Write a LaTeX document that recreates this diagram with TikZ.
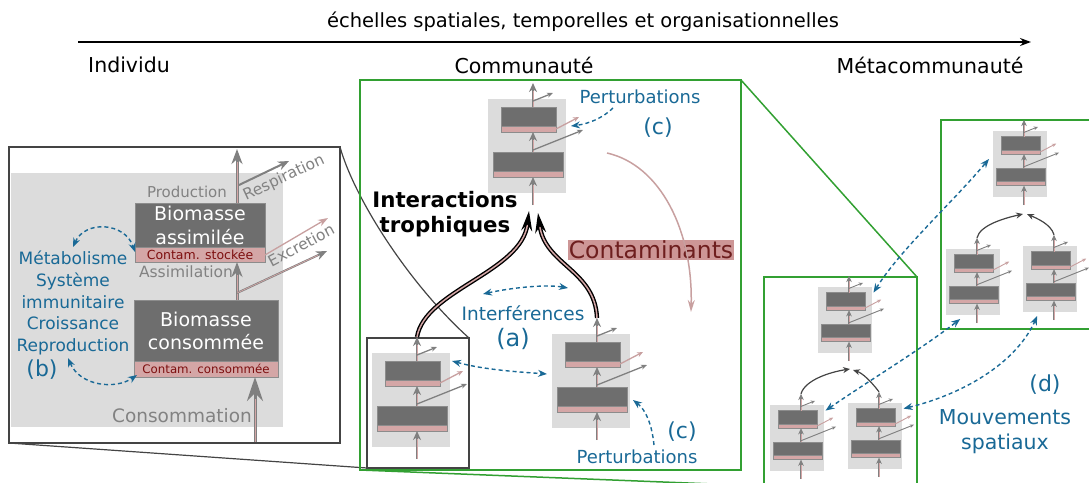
\documentclass[tikz,border=0pt]{standalone}
\usepackage{fontspec}
\setmainfont{DejaVu Sans}
\usetikzlibrary{arrows.meta}

\definecolor{bggray}{RGB}{220,220,220}
\definecolor{biogray}{RGB}{110,110,110}
\definecolor{edgegray}{RGB}{140,140,140}
\definecolor{contpink}{RGB}{212,166,166}
\definecolor{arrgray}{RGB}{128,128,128}
\definecolor{framegray}{RGB}{68,68,68}
\definecolor{vert}{RGB}{50,160,50}
\definecolor{bleu}{RGB}{25,105,150}
\definecolor{rougef}{RGB}{125,15,15}
\definecolor{textgray}{RGB}{130,130,130}
\definecolor{contbg}{RGB}{205,150,150}
\definecolor{contdark}{RGB}{110,30,30}
\definecolor{pinkarrow}{RGB}{200,160,160}

% one small organism (name, x, y, scale)
\newcommand{\orga}[4]{%
  \pgfmathsetmacro{\lwa}{2.4*#4}%
  \pgfmathsetmacro{\lwb}{1.3*#4}%
  \pgfmathsetmacro{\lwc}{0.6*#4}%
  \begin{scope}[shift={(#2,#3)}, scale=#4]
    \fill[bggray] (-45,0) rectangle (33,94);
    \draw[biobox] (-32,8) rectangle (23,33);
    \draw[strip] (-32,27) rectangle (23,33);
    \draw[biobox] (-40,53) rectangle (30,78);
    \draw[strip] (-40,72) rectangle (30,78);
    \coordinate (#1-in) at (0,106);
    \coordinate (#1-out) at (0,-16);
    \coordinate (#1-ne) at (35,8);
    \coordinate (#1-w) at (-50,40);
    \coordinate (#1-s) at (-24,100);
    \draw[arrgray, line width=\lwa pt, -{Stealth[length=9pt,width=8pt,scale=#4]}] (#1-in) -- (0,78);
    \draw[arrgray, line width=\lwa pt, -{Stealth[length=9pt,width=8pt,scale=#4]}] (0,53) -- (0,33);
    \draw[arrgray, line width=\lwa pt, -{Stealth[length=9pt,width=8pt,scale=#4]}] (0,8) -- (#1-out);
    \draw[contpink, line width=\lwc pt] (#1-in) -- (0,86) (0,53) -- (0,41) (0,8) -- (0,-8);
    \draw[arrgray, line width=\lwb pt, -{Stealth[length=6pt,width=5pt,scale=#4]}] (0,2) -- (20,-6);
    \draw[pinkarrow, line width=\lwb pt, -{Stealth[length=6pt,width=5pt,scale=#4]}] (23,30) -- (46,18);
    \draw[arrgray, line width=\lwb pt, -{Stealth[length=6pt,width=5pt,scale=#4]}] (0,51) -- (50,31);
  \end{scope}}

\begin{document}
\begin{tikzpicture}[x=1pt, y=-1pt,
  every node/.style={inner sep=0pt},
  biobox/.style={fill=biogray, draw=edgegray, line width=0.8pt},
  strip/.style={fill=contpink, draw=edgegray, line width=0.8pt},
  frame/.style={draw=framegray, line width=1.4pt},
  cadre/.style={draw=vert, line width=1.5pt},
  flux/.style={draw=arrgray, line width=3pt, -{Stealth[length=15pt,width=11pt]}},
  fluxin/.style={draw=contpink, line width=1pt, shorten >=13pt},
  perturb/.style={draw=bleu, line width=1.4pt, dash pattern=on 4pt off 3pt,
    {Stealth[length=9pt,width=7pt]}-{Stealth[length=9pt,width=7pt]}},
  perturbone/.style={draw=bleu, line width=1.4pt, dash pattern=on 4pt off 3pt,
    -{Stealth[length=9pt,width=7pt]}},
  troph/.style={draw=black, line width=1.4pt, double=contpink, double distance=1.5pt,
    -{Stealth[length=20pt,width=11pt]}},
  reseau/.style={draw=framegray, line width=1.2pt, -{Stealth[length=7pt,width=6pt]}},
  bluetxt/.style={text=bleu, font=\fontsize{18}{22}\selectfont}
]
\clip (0,0) rectangle (1089,482);
\useasboundingbox (0,0) rectangle (1089,482);

% scale axis
\node[font=\fontsize{19.5}{23}\selectfont] (echelle) at (583,22) {échelles spatiales, temporelles et organisationnelles};
\coordinate (axeA) at (78,42);
\coordinate (axeB) at (1031,42);
\draw[line width=1.8pt, -{Stealth[length=11pt,width=8pt]}] (axeA) -- (axeB);
\node[font=\fontsize{20.5}{24}\selectfont] (indiv) at (129,65) {Individu};
\node[font=\fontsize{20.5}{24}\selectfont] (commu) at (524,65) {Communauté};
\node[font=\fontsize{20.5}{24}\selectfont] (meta) at (930,65) {Métacommunauté};

% zoom lines
\coordinate (zA) at (340,147);
\coordinate (zB) at (469,338);
\coordinate (zC) at (9,443);
\coordinate (zD) at (367,468);
\draw[framegray, line width=1.2pt] (zA) .. controls (355,200) and (410,285) .. (zB);
\draw[framegray, line width=1.2pt] (zC) -- (zD);
\coordinate (vA) at (741,80);
\coordinate (vB) at (917,277);
\coordinate (vC) at (360,470);
\coordinate (vD) at (764,486);
\draw[vert, line width=1.5pt] (vA) -- (vB);
\draw[vert, line width=1.5pt] (vC) -- (vD);

% ---- individual (b)
\draw[frame, fill=white] (9,147) rectangle (340,443);
\fill[bggray] (11,173) rectangle (283,427);
\draw[biobox] (135,203) rectangle (265,262);
\draw[strip] (135,247) rectangle (265,262);
\draw[biobox] (134,300) rectangle (278,377);
\draw[strip] (134,361) rectangle (278,377);
\node[text=white, align=center, font=\fontsize{19}{24}\selectfont] (assim) at (200,225) {Biomasse\\assimilée};
\node[text=rougef, font=\fontsize{12.5}{15}\selectfont] (stock) at (200,255) {Contam. stockée};
\node[text=white, align=center, font=\fontsize{19}{23}\selectfont] (conso) at (206,331) {Biomasse\\consommée};
\node[text=rougef, font=\fontsize{11.8}{14}\selectfont] (cconso) at (206,369) {Contam. consommée};

\coordinate (pA) at (237,203);
\coordinate (pB) at (237,149);
\coordinate (aA) at (237,300);
\coordinate (aB) at (237,262);
\coordinate (cA) at (255,442);
\coordinate (cB) at (255,377);
\draw[flux] (pA) -- (pB);
\draw[fluxin] (pA) -- (pB);
\draw[flux] (aA) -- (aB);
\draw[fluxin] (aA) -- (aB);
\draw[flux, -{Stealth[length=24pt,width=16pt]}] (cA) -- (cB);
\draw[fluxin, shorten >=22pt] (cA) -- (cB);
\coordinate (rA) at (239,185);
\coordinate (rB) at (289,161);
\draw[arrgray, line width=2pt, -{Stealth[length=11pt,width=9pt]}] (rA) -- (rB);
\coordinate (eA) at (237,293);
\coordinate (eB) at (327,251);
\draw[arrgray, line width=2pt, -{Stealth[length=11pt,width=9pt]}] (eA) -- (eB);
\draw[contpink, line width=0.7pt, shorten >=10pt] (eA) -- (eB);
\coordinate (fA) at (265,255);
\coordinate (fB) at (328,218);
\draw[pinkarrow, line width=1.3pt, -{Stealth[length=10pt,width=7pt]}] (fA) -- (fB);

\node[text=textgray, font=\fontsize{15}{18}\selectfont] (prod) at (187,192) {Production};
\node[text=textgray, font=\fontsize{15.5}{18}\selectfont] (assimil) at (186,272) {Assimilation};
\node[text=textgray, font=\fontsize{18.5}{22}\selectfont] (consom) at (182,416) {Consommation};
\node[text=textgray, rotate=25, font=\fontsize{15.5}{18}\selectfont] (resp) at (284,178) {Respiration};
\node[text=textgray, rotate=28, font=\fontsize{15.5}{18}\selectfont] (excr) at (301,245) {Excretion};

\node[text=bleu, align=center, font=\fontsize{17}{21.8}\selectfont] (phys) at (73,303) {Métabolisme\\Système\\immunitaire\\Croissance\\Reproduction};
\node[text=bleu, font=\fontsize{22}{26}\selectfont] (lb) at (42,370) {(b)};
\coordinate (bA) at (73,247);
\coordinate (bB) at (135,252);
\coordinate (bC) at (68,358);
\coordinate (bD) at (137,375);
\draw[perturb] (bA) .. controls (85,220) and (125,222) .. (bB);
\draw[perturb] (bC) .. controls (80,386) and (115,390) .. (bD);

% ---- community (a), (c)
\draw[cadre] (360,80) rectangle (741,470);
\draw[frame] (367,338) rectangle (469,468);
\orga{cT}{533}{99}{1}
\orga{cL}{417}{353}{1}
\orga{cR}{597}{334}{1}

\coordinate (tL) at (529,211);
\coordinate (tR) at (538,213);
\draw[troph] (cL-out) .. controls (425,290) and (522,272) .. (tL);
\draw[troph] (cR-out) .. controls (595,270) and (545,265) .. (tR);
\node[font=\bfseries\fontsize{21.3}{25.5}\selectfont, align=center] (troph) at (445,214) {Interactions\\trophiques};

\node[fill=contbg, text=contdark, inner sep=1pt, font=\fontsize{23.5}{26}\selectfont] (contam) at (651,250) {Contaminants};
\coordinate (kA) at (607,153);
\coordinate (kB) at (691,312);
\draw[pinkarrow, line width=1.5pt, -{Stealth[length=12pt,width=7pt]}] (kA) .. controls (660,165) and (693,230) .. (kB);

\node[bluetxt] (pertH) at (640,97) {Perturbations};
\node[text=bleu, font=\fontsize{22}{26}\selectfont] (lcH) at (658,128) {(c)};
\coordinate (qA) at (613,108);
\coordinate (qB) at (571,126);
\draw[perturbone] (qA) .. controls (603,118) and (588,124) .. (qB);

\node[bluetxt] (pertB) at (637,457) {Perturbations};
\node[text=bleu, font=\fontsize{22}{26}\selectfont] (lcB) at (682,432) {(c)};
\coordinate (sA) at (654,445);
\coordinate (sB) at (633,400);
\draw[perturbone] (sA) .. controls (652,425) and (646,410) .. (sB);

\node[text=bleu, font=\fontsize{18.5}{22}\selectfont] (interf) at (523,313) {Interférences};
\node[text=bleu, font=\fontsize{24}{28}\selectfont] (la) at (513,339) {(a)};
\coordinate (iA) at (483,294);
\coordinate (iB) at (568,288);
\draw[perturb] (iA) .. controls (510,288) and (545,284) .. (iB);
\draw[perturb] (cL-ne) .. controls (485,370) and (520,372) .. (cR-w);

% ---- metacommunity (d)
\draw[cadre] (764,277) rectangle (917,495);
\draw[cadre, fill=white] (941,120) rectangle (1095,329);
\orga{mT}{849}{287}{0.7}
\orga{mBL}{801}{405}{0.7}
\orga{mBR}{879}{403}{0.7}
\orga{uT}{1024}{131}{0.7}
\orga{uBL}{977}{249}{0.7}
\orga{uBR}{1054}{246}{0.7}
\coordinate (mJ) at (850,369);
\coordinate (mK) at (853,370);
\draw[reseau] (mBL-out) .. controls (805,380) and (830,372) .. (mJ);
\draw[reseau] (mBR-out) .. controls (870,380) and (862,373) .. (mK);
\coordinate (uJ) at (1023,214);
\coordinate (uK) at (1027,214);
\draw[reseau] (uBL-out) .. controls (980,225) and (1005,218) .. (uJ);
\draw[reseau] (uBR-out) .. controls (1051,224) and (1036,218) .. (uK);

\draw[perturb] (mT-ne) .. controls (900,250) and (950,205) .. (uT-w);
\draw[perturb] (mBL-ne) .. controls (870,380) and (920,350) .. (uBL-s);
\draw[perturb] (mBR-ne) .. controls (960,395) and (1015,365) .. (uBR-s);

\node[text=bleu, font=\fontsize{22}{26}\selectfont] (ld) at (1045,385) {(d)};
\node[text=bleu, align=center, font=\fontsize{20.5}{25}\selectfont] (mouv) at (1005,432) {Mouvements\\spatiaux};
\end{tikzpicture}
\end{document}
